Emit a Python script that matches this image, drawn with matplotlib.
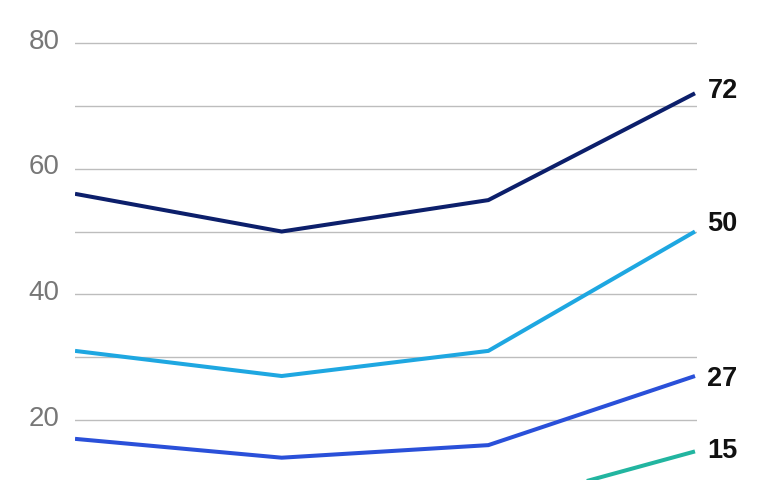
import matplotlib
matplotlib.use("Agg")
import matplotlib.pyplot as plt

plt.rcParams['font.family'] = ['Liberation Sans', 'DejaVu Sans']

x_pos = [0, 1, 2, 3]
navy = [56, 50, 55, 72]
light_blue = [31, 27, 31, 50]
blue = [17, 14, 16, 27]
teal = [7, 5, 6, 15]

series = [
    (navy, '#0c1f6b'),
    (light_blue, '#1ea7e1'),
    (blue, '#2a50d9'),
    (teal, '#22b5a0'),
]
# vertical nudge of end labels, in points (layout only)
label_nudge = [1.8, 5.5, -2.4, 0.6]

grid_vals = [20, 30, 40, 50, 60, 70, 80]
tick_vals = [20, 40, 60, 80]
tick_labels = ['20', '40', '60', '80']

fig = plt.figure(figsize=(7.67, 4.8), dpi=100)
ax = fig.add_axes([0.0978, 0.0, 0.811, 1.0])
ax.set_xlim(0, 3.01)
ax.set_ylim(10.45, 86.85)

for g in grid_vals:
    ax.axhline(g, color='#bdbdbd', lw=1.0, zorder=1)

for (vals, col), dy in zip(series, label_nudge):
    ax.plot(x_pos, vals, color=col, lw=2.9, solid_capstyle='butt',
            solid_joinstyle='miter', zorder=3, clip_on=True)
    ax.annotate(str(vals[-1]), xy=(x_pos[-1], vals[-1]), xytext=(9, dy),
                textcoords='offset points', ha='left', va='center',
                fontsize=19.5, fontweight='bold', color='#111111',
                annotation_clip=False)

for v, lab in zip(tick_vals, tick_labels):
    ax.annotate(lab, xy=(0, v), xytext=(-11, 1), textcoords='offset points',
                ha='right', va='center', fontsize=20, color='#777777',
                annotation_clip=False)

ax.set_xticks([])
ax.set_yticks([])
for s in ax.spines.values():
    s.set_visible(False)
ax.patch.set_alpha(0)

fig.savefig('out.png', dpi=100, facecolor='white')
